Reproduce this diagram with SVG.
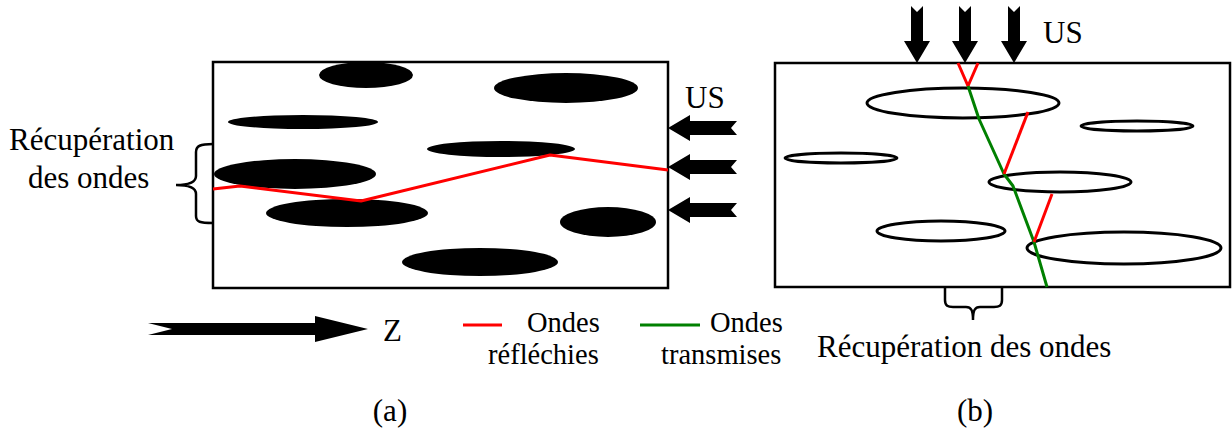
<svg xmlns="http://www.w3.org/2000/svg" width="1232" height="434" viewBox="0 0 1232 434">
<style>
text{font-family:"Liberation Serif","Times New Roman",serif;fill:#000}
.t{font-size:31px}
.lg{font-size:28.5px}
.box{fill:none;stroke:#000;stroke-width:2.5}
.blk{fill:#000}
.hol{fill:none;stroke:#000;stroke-width:3}
.red{fill:none;stroke:#f00;stroke-width:3;stroke-linejoin:round}
.grn{fill:none;stroke:#008000;stroke-width:3;stroke-linejoin:round}
.br{fill:none;stroke:#000;stroke-width:2.5}
</style>
<defs>
<path id="la" d="M0,0 L22,-13 L22,-7 L69,-7 L63,0 L69,7 L22,7 L22,13 Z"/>
<path id="da" d="M0,0 L-13,-22 L-6,-22 L-6,-57 L0,-51 L6,-57 L6,-22 L13,-22 Z"/>
</defs>
<g id="panel-a">
<rect class="box" x="213" y="62" width="455" height="226"/>
<ellipse class="blk" cx="366" cy="75" rx="47" ry="13"/>
<ellipse class="blk" cx="566" cy="88" rx="72" ry="15"/>
<ellipse class="blk" cx="303" cy="122" rx="75" ry="7"/>
<ellipse class="blk" cx="501" cy="149" rx="74" ry="8"/>
<ellipse class="blk" cx="295" cy="174" rx="81" ry="15"/>
<ellipse class="blk" cx="347" cy="213" rx="81" ry="14"/>
<ellipse class="blk" cx="608" cy="222" rx="48" ry="15"/>
<ellipse class="blk" cx="480" cy="262" rx="78" ry="14"/>
</g>
<g id="us-arrows-a">
<use href="#la" x="668" y="128"/>
<use href="#la" x="668" y="167"/>
<use href="#la" x="668" y="210"/>
<text class="t" x="685" y="108">US</text>
</g>
<g id="brace-a">
<path class="br" d="M213,144 C200,144 196,146 196,152 L196,176 C196,182 190,185 176,185 C190,185 196,188 196,194 L196,216 C196,222 200,223 213,223"/>
<text class="t" x="9" y="150">Récupération</text>
<text class="t" x="28" y="188">des ondes</text>
</g>
<g id="z-axis">
<path class="blk" d="M148,323 L315,323 L315,316 L368,329 L315,342 L315,335 L148,335 L172,329 Z"/>
<text class="t" x="383" y="341">Z</text>
</g>
<g id="legend">
<line class="red" x1="463" y1="325" x2="502" y2="325"/>
<text class="lg" x="527" y="332">Ondes</text>
<text class="lg" x="488" y="364">réfléchies</text>
<line class="grn" x1="640" y1="325" x2="700" y2="325"/>
<text class="lg" x="710" y="332">Ondes</text>
<text class="lg" x="661" y="364">transmises</text>
</g>
<g id="panel-b">
<rect class="box" x="775" y="63" width="455" height="224"/>
<ellipse class="hol" cx="963" cy="103" rx="96" ry="15"/>
<ellipse class="hol" cx="1137" cy="126" rx="56" ry="5"/>
<ellipse class="hol" cx="841" cy="158" rx="56" ry="5"/>
<ellipse class="hol" cx="1060" cy="182" rx="71" ry="10"/>
<ellipse class="hol" cx="941" cy="231" rx="64" ry="10"/>
<ellipse class="hol" cx="1124" cy="248" rx="97" ry="16"/>
</g>
<g id="us-arrows-b">
<use href="#da" x="917" y="63"/>
<use href="#da" x="965" y="63"/>
<use href="#da" x="1014" y="63"/>
<text class="t" x="1043" y="43">US</text>
</g>
<g id="brace-b">
<path class="br" d="M945,288 L945,300 C945,306 948,307 953,307 L966,307 C971,307 973,310 973,320 C973,310 975,307 980,307 L994,307 C999,307 1002,306 1002,300 L1002,288"/>
<text class="t" x="817" y="357">Récupération des ondes</text>
</g>
<g id="connectors">
<polyline class="red" points="213,189 240,186 361,201 550,155 668,170"/>
<polyline class="red" points="958,63 968,86 978,63"/>
<polyline class="grn" points="968,86 979,119 1004,174 1013,186 1034,242 1047,287"/>
<line class="red" x1="1004" y1="174" x2="1028" y2="112"/>
<line class="red" x1="1034" y1="242" x2="1052" y2="194"/>
</g>
<g id="captions">
<text class="t" x="390" y="421" text-anchor="middle">(a)</text>
<text class="t" x="975" y="421" text-anchor="middle">(b)</text>
</g>
</svg>
